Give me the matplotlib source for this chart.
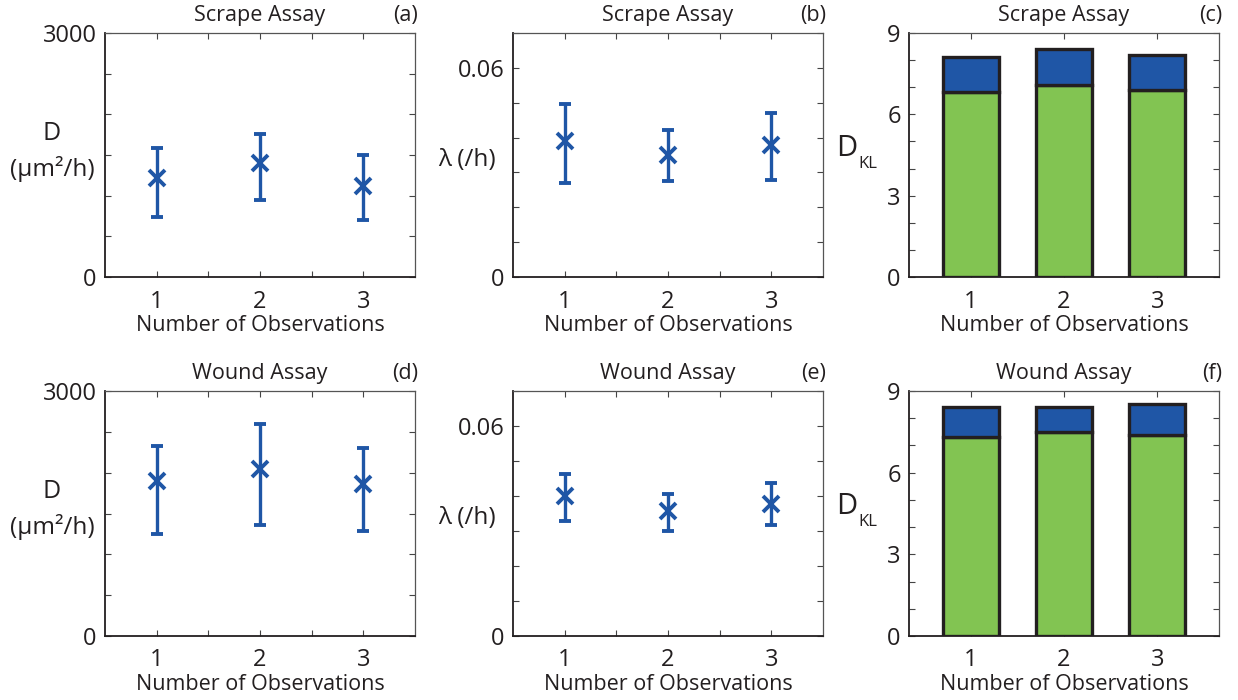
import numpy as np
import matplotlib
matplotlib.use("Agg")
import matplotlib.pyplot as plt
from matplotlib.transforms import offset_copy

plt.rcParams['font.family'] = ['Open Sans', 'DejaVu Sans']

# data
obs = [1, 2, 3]

scrape_D = [1214, 1398, 1124]
scrape_D_lo = [732, 948, 695]
scrape_D_hi = [1582, 1757, 1500]

wound_D = [1898, 2045, 1865]
wound_D_lo = [1249, 1363, 1282]
wound_D_hi = [2331, 2592, 2302]

scrape_lam = [0.0389, 0.0351, 0.0378]
scrape_lam_lo = [0.0269, 0.0274, 0.0278]
scrape_lam_hi = [0.0497, 0.0421, 0.0471]

wound_lam = [0.0400, 0.0357, 0.0376]
wound_lam_lo = [0.0329, 0.0301, 0.0318]
wound_lam_hi = [0.0463, 0.0406, 0.0438]

# KL divergence, green part and total (green + blue)
scrape_kl_green = [6.81, 7.08, 6.88]
scrape_kl_total = [8.11, 8.40, 8.20]
wound_kl_green = [7.32, 7.49, 7.39]
wound_kl_total = [8.42, 8.42, 8.52]

BLUE = '#1f56a6'
GREEN = '#82c452'
DARK = '#231f20'

W, H = 1238, 700
fig = plt.figure(figsize=(W / 100, H / 100), dpi=100)


def add_ax(x0, y0, x1, y1):
    # pixel box (top-left origin) -> figure axes
    return fig.add_axes([x0 / W, 1 - y1 / H, (x1 - x0) / W, (y1 - y0) / H])


def ftext(x, y, s, **kw):
    fig.text(x / W, 1 - y / H, s, **kw)


def style(ax, title, tag):
    for side in ['left', 'bottom']:
        ax.spines[side].set_color(DARK)
        ax.spines[side].set_linewidth(1.3)
    for side in ['top', 'right']:
        ax.spines[side].set_color('#555555')
        ax.spines[side].set_linewidth(0.9)
    ax.tick_params(direction='in', top=True, right=True, length=4, width=0.8,
                   color='#444444', labelsize=17, labelcolor=DARK, pad=6)
    ax.tick_params(axis='x', pad=9)
    ax.set_title(title, fontsize=15.5, color=DARK, pad=9)
    tr = offset_copy(ax.transAxes, fig=fig, x=0, y=9, units='points')
    ax.text(1.01, 1.0, tag, transform=tr, ha='right', va='baseline',
            fontsize=15.5, color=DARK)
    ax.set_xlabel('Number of Observations', fontsize=15.5, color=DARK, labelpad=1)


def err_panel(ax, vals, lo, hi, ymax, yticks, ylabels):
    vals = np.array(vals)
    yerr = [vals - np.array(lo), np.array(hi) - vals]
    ax.errorbar(obs, vals, yerr=yerr, fmt='x', color=BLUE, ecolor=BLUE,
                elinewidth=2.4, capsize=4, capthick=2.4,
                markersize=11, markeredgewidth=2.8)
    ax.set_xlim(0.5, 3.5)
    ax.set_xticks([1, 1.5, 2, 2.5, 3])
    ax.set_xticklabels(['1', '', '2', '', '3'])
    ax.set_ylim(0, ymax)
    ax.set_yticks(yticks)
    ax.set_yticklabels(ylabels)


def kl_panel(ax, green, total):
    green = np.array(green)
    blue = np.array(total) - green
    ax.bar(obs, green, width=0.6, color=GREEN, edgecolor=DARK, linewidth=2.4, zorder=2)
    ax.bar(obs, blue, bottom=green, width=0.6, color=BLUE, edgecolor=DARK,
           linewidth=2.4, zorder=2)
    ax.set_xlim(0.34, 3.66)
    ax.set_xticks(obs)
    ax.set_ylim(0, 9)
    ax.set_yticks(range(10))
    ax.set_yticklabels(['0', '', '', '3', '', '', '6', '', '', '9'])


D_ticks = np.arange(0, 3001, 500)
D_labels = ['0', '', '', '', '', '', '3000']
lam_ticks = np.arange(0, 0.0701, 0.01)
lam_labels = ['0', '', '', '', '', '', '0.06', '']

rows = [
    ('Scrape Assay', 'abc', 33, 277, scrape_D, scrape_D_lo, scrape_D_hi,
     scrape_lam, scrape_lam_lo, scrape_lam_hi, scrape_kl_green, scrape_kl_total),
    ('Wound Assay', 'def', 391, 636, wound_D, wound_D_lo, wound_D_hi,
     wound_lam, wound_lam_lo, wound_lam_hi, wound_kl_green, wound_kl_total),
]

for (title, tags, top, bot, D, Dlo, Dhi, lam, lamlo, lamhi, klg, klt) in rows:
    ax1 = add_ax(105, top, 415, bot)
    err_panel(ax1, D, Dlo, Dhi, 3000, D_ticks, D_labels)
    style(ax1, title, '(%s)' % tags[0])

    ax2 = add_ax(513, top, 823, bot)
    err_panel(ax2, lam, lamlo, lamhi, 0.07, lam_ticks, lam_labels)
    style(ax2, title, '(%s)' % tags[1])

    ax3 = add_ax(909, top, 1219, bot)
    kl_panel(ax3, klg, klt)
    style(ax3, title, '(%s)' % tags[2])

    # y labels, written horizontally as in the original
    ftext(52, top + 101, 'D', fontsize=18, ha='center', va='center', color=DARK)
    ftext(52, top + 136, '(μm²/h)', fontsize=17.5, ha='center', va='center', color=DARK)
    ftext(467, top + 127, 'λ (/h)', fontsize=17.5, ha='center', va='center', color=DARK)
    ftext(847, top + 116, 'D', fontsize=21, ha='center', va='center', color=DARK)
    ftext(868, top + 131, 'KL', fontsize=12, ha='center', va='center', color=DARK)

fig.savefig('out.png', dpi=100)
